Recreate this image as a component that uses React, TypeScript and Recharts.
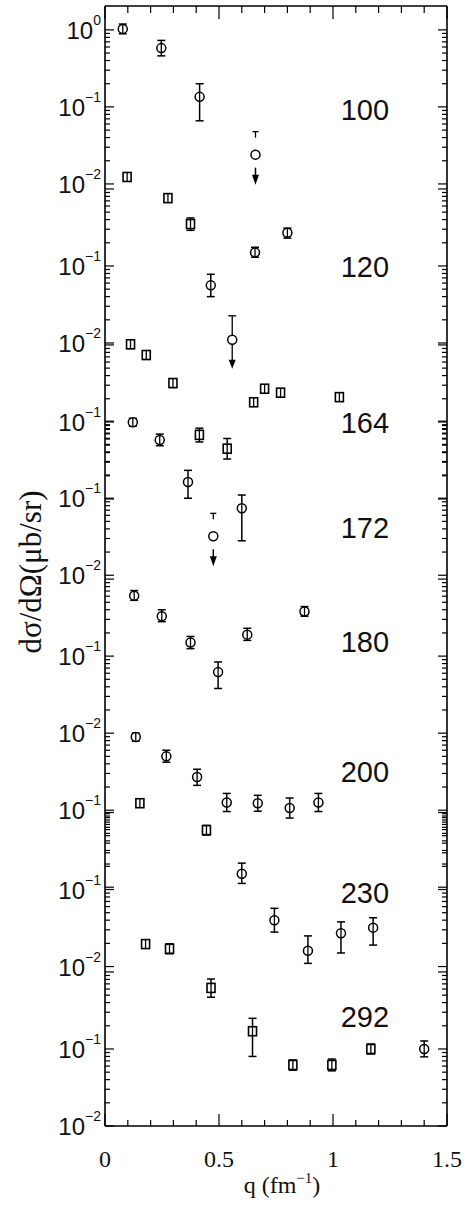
import React from 'react';
import { ScatterChart, Scatter, XAxis, YAxis, ErrorBar } from 'recharts';

type Pt = { q: number; v: number; lo?: number; hi?: number };

// ---------- data (q in fm^-1, dσ/dΩ in μb/sr) ----------
const ENERGIES = ['100', '120', '164', '172', '180', '200', '230', '292'];
// vertical shift of each energy panel, in decades
const PANEL_SHIFT = [0, -2.065, -4.09, -5.08, -7.13, -9.13, -10.16, -12.23];
// energy label anchor, in the panel's own units
const ENERGY_LABEL_V = [0.068, 0.072, 0.072, 0.03, 0.112, 0.23, 0.066, 0.19];
const ENERGY_LABEL_Q = 1.14;

const E100_CIRCLES: Pt[] = [
  { q: 0.078, v: 1.03, lo: 0.89, hi: 1.19 },
  { q: 0.247, v: 0.58, lo: 0.46, hi: 0.73 },
  { q: 0.415, v: 0.135, lo: 0.066, hi: 0.2 },
];
const E100_LIMITS: Pt[] = [{ q: 0.66, v: 0.024 }];

const E120_SQUARES: Pt[] = [
  { q: 0.097, v: 1.43, lo: 1.27, hi: 1.61 },
  { q: 0.276, v: 0.76, lo: 0.67, hi: 0.86 },
  { q: 0.375, v: 0.35, lo: 0.29, hi: 0.42 },
];
const E120_CIRCLES: Pt[] = [
  { q: 0.464, v: 0.056, lo: 0.04, hi: 0.078 },
  { q: 0.658, v: 0.15, lo: 0.13, hi: 0.175 },
  { q: 0.8, v: 0.27, lo: 0.23, hi: 0.31 },
];
const E120_LIMITS: Pt[] = [{ q: 0.558, v: 0.011, hi: 0.0225 }];

const E164_SQUARES: Pt[] = [
  { q: 0.112, v: 1.02, lo: 0.9, hi: 1.15 },
  { q: 0.181, v: 0.74, lo: 0.65, hi: 0.84 },
  { q: 0.298, v: 0.32, lo: 0.28, hi: 0.36 },
  { q: 0.414, v: 0.068, lo: 0.055, hi: 0.083 },
  { q: 0.536, v: 0.045, lo: 0.033, hi: 0.061 },
  { q: 0.652, v: 0.18, lo: 0.16, hi: 0.2 },
  { q: 0.7, v: 0.27, lo: 0.24, hi: 0.3 },
  { q: 0.77, v: 0.24, lo: 0.21, hi: 0.27 },
  { q: 1.028, v: 0.21, lo: 0.19, hi: 0.23 },
];

const E172_CIRCLES: Pt[] = [
  { q: 0.122, v: 0.97, lo: 0.86, hi: 1.09 },
  { q: 0.24, v: 0.57, lo: 0.48, hi: 0.68 },
  { q: 0.364, v: 0.162, lo: 0.1, hi: 0.23 },
  { q: 0.6, v: 0.074, lo: 0.028, hi: 0.11 },
];
const E172_LIMITS: Pt[] = [{ q: 0.475, v: 0.032 }];

const E180_CIRCLES: Pt[] = [
  { q: 0.128, v: 0.61, lo: 0.53, hi: 0.71 },
  { q: 0.249, v: 0.33, lo: 0.28, hi: 0.4 },
  { q: 0.375, v: 0.15, lo: 0.125, hi: 0.18 },
  { q: 0.496, v: 0.062, lo: 0.038, hi: 0.084 },
  { q: 0.624, v: 0.19, lo: 0.16, hi: 0.23 },
  { q: 0.875, v: 0.38, lo: 0.33, hi: 0.44 },
];

const E200_CIRCLES: Pt[] = [
  { q: 0.135, v: 0.89, lo: 0.79, hi: 1.0 },
  { q: 0.269, v: 0.5, lo: 0.42, hi: 0.6 },
  { q: 0.404, v: 0.27, lo: 0.21, hi: 0.34 },
  { q: 0.534, v: 0.126, lo: 0.096, hi: 0.165 },
  { q: 0.67, v: 0.123, lo: 0.097, hi: 0.156 },
  { q: 0.81, v: 0.107, lo: 0.079, hi: 0.144 },
  { q: 0.936, v: 0.126, lo: 0.096, hi: 0.165 },
];

const E230_SQUARES: Pt[] = [
  { q: 0.153, v: 1.32, lo: 1.17, hi: 1.49 },
  { q: 0.445, v: 0.59, lo: 0.51, hi: 0.68 },
];
const E230_CIRCLES: Pt[] = [
  { q: 0.6, v: 0.16, lo: 0.12, hi: 0.22 },
  { q: 0.743, v: 0.04, lo: 0.028, hi: 0.057 },
  { q: 0.89, v: 0.016, lo: 0.011, hi: 0.025 },
  { q: 1.035, v: 0.027, lo: 0.015, hi: 0.038 },
  { q: 1.176, v: 0.032, lo: 0.019, hi: 0.043 },
];

const E292_SQUARES: Pt[] = [
  { q: 0.178, v: 2.3, lo: 2.04, hi: 2.6 },
  { q: 0.283, v: 2.0, lo: 1.72, hi: 2.32 },
  { q: 0.465, v: 0.62, lo: 0.47, hi: 0.81 },
  { q: 0.647, v: 0.17, lo: 0.08, hi: 0.25 },
  { q: 0.824, v: 0.062, lo: 0.053, hi: 0.072 },
  { q: 0.995, v: 0.062, lo: 0.052, hi: 0.074 },
  { q: 1.166, v: 0.1, lo: 0.086, hi: 0.116 },
];
const E292_CIRCLES: Pt[] = [{ q: 1.4, v: 0.1, lo: 0.079, hi: 0.127 }];

// labelled decades on the left axis: [panel, exponent]
const Y_LABELLED: [number, number][] = [
  [0, 0], [0, -1], [0, -2], [1, -1], [1, -2], [2, -1], [3, -1], [3, -2],
  [4, -1], [4, -2], [5, -1], [6, -1], [6, -2], [7, -1], [7, -2],
];
const X_TICKS = [0, 0.1, 0.2, 0.3, 0.4, 0.5, 0.6, 0.7, 0.8, 0.9, 1.0, 1.1, 1.2, 1.3, 1.4, 1.5];
const X_TICK_LABELS: Record<string, string> = { '0.0': '0', '0.5': '0.5', '1.0': '1', '1.5': '1.5' };

// ---------- layout ----------
const W = 470;
const H = 1209;
const Y_TOP = 0.31;
const Y_BOTTOM = -14.23;
const INK = '#000';

const gv = (v: number, p: number) => Math.log10(v) + PANEL_SHIFT[p];

function rows(pts: Pt[], p: number) {
  return pts.map((d) => {
    const y = gv(d.v, p);
    const lo = d.lo != null ? y - gv(d.lo, p) : 0;
    const hi = d.hi != null ? gv(d.hi, p) - y : 0;
    return { q: d.q, g: y, err: [lo, hi] };
  });
}

// y ticks
const tickInfo = new Map<string, { major: boolean; label?: number }>();
const keyOf = (g: number) => g.toFixed(3);
PANEL_SHIFT.forEach((off) => {
  [0, -1, -2].forEach((e) => {
    const g = off + e;
    if (g <= Y_TOP && g >= Y_BOTTOM) tickInfo.set(keyOf(g), { major: true });
  });
  [0, -1].forEach((d) => {
    for (let k = 2; k <= 9; k++) {
      const g = off + d - 1 + Math.log10(k);
      if (!tickInfo.has(keyOf(g))) tickInfo.set(keyOf(g), { major: false });
    }
  });
});
Y_LABELLED.forEach(([p, e]) => {
  tickInfo.set(keyOf(PANEL_SHIFT[p] + e), { major: true, label: e });
});
const Y_TICKS = Array.from(tickInfo.keys()).map(Number).sort((a, b) => a - b);

const SANS = '"Liberation Sans", Arial, sans-serif';
const SERIF = '"Liberation Serif", "DejaVu Serif", serif';

const LeftTick = (props: any) => {
  const { x, y, payload } = props;
  const info = tickInfo.get(keyOf(payload.value)) || { major: false };
  const len = info.major ? 9 : 5;
  return (
    <g>
      <line x1={x} x2={x + len} y1={y} y2={y} stroke={INK} strokeWidth={1.2} />
      {info.label !== undefined && (
        <text x={x - 4} y={y + 9} textAnchor="end" fontFamily={SANS} fontSize={24} fill="#111">
          10
          <tspan fontSize={14} dy={-14}>{info.label === 0 ? '0' : '\u2212' + Math.abs(info.label)}</tspan>
        </text>
      )}
    </g>
  );
};

const RightTick = (props: any) => {
  const { x, y, payload } = props;
  const info = tickInfo.get(keyOf(payload.value)) || { major: false };
  const len = info.major ? 9 : 5;
  return <line x1={x} x2={x - len} y1={y} y2={y} stroke={INK} strokeWidth={1.2} />;
};

const isHalf = (v: number) => Math.abs(v * 2 - Math.round(v * 2)) < 1e-6;

const BottomTick = (props: any) => {
  const { x, y, payload } = props;
  const v = payload.value as number;
  const len = isHalf(v) ? 12 : 6;
  const label = X_TICK_LABELS[v.toFixed(1)];
  return (
    <g>
      <line x1={x} x2={x} y1={y} y2={y - len} stroke={INK} strokeWidth={1.2} />
      {label && (
        <text x={x} y={y + 41} textAnchor="middle" fontFamily={SERIF} fontSize={24} fill="#111">
          {label}
        </text>
      )}
    </g>
  );
};

const TopTick = (props: any) => {
  const { x, y, payload } = props;
  const len = isHalf(payload.value) ? 13 : 7;
  return <line x1={x} x2={x} y1={y} y2={y + len} stroke={INK} strokeWidth={1.2} />;
};

const CircleMark = (props: any) => {
  const { cx, cy } = props;
  if (cx == null || cy == null) return null;
  return (
    <g>
      <circle cx={cx} cy={cy} r={4.5} fill="#fff" stroke={INK} strokeWidth={1.5} />
      <line x1={cx} x2={cx} y1={cy - 4.5} y2={cy + 4.5} stroke={INK} strokeWidth={1.3} />
    </g>
  );
};

const SquareMark = (props: any) => {
  const { cx, cy } = props;
  if (cx == null || cy == null) return null;
  return (
    <g>
      <rect x={cx - 4} y={cy - 4.5} width={8} height={9} fill="#fff" stroke={INK} strokeWidth={1.6} />
      <line x1={cx} x2={cx} y1={cy - 4.5} y2={cy + 4.5} stroke={INK} strokeWidth={1.3} />
    </g>
  );
};

const LimitGapMark = (props: any) => {
  const { cx, cy } = props;
  if (cx == null || cy == null) return null;
  return (
    <g>
      <line x1={cx - 3} x2={cx + 3} y1={cy - 23} y2={cy - 23} stroke={INK} strokeWidth={1.3} />
      <line x1={cx} x2={cx} y1={cy - 23} y2={cy - 17} stroke={INK} strokeWidth={1.3} />
      <circle cx={cx} cy={cy} r={4.5} fill="#fff" stroke={INK} strokeWidth={1.5} />
      <line x1={cx} x2={cx} y1={cy + 13} y2={cy + 21} stroke={INK} strokeWidth={1.5} />
      <path d={`M${cx - 3.5},${cy + 20} L${cx + 3.5},${cy + 20} L${cx},${cy + 30} Z`} fill={INK} />
    </g>
  );
};

const LimitLineMark = (props: any) => {
  const { cx, cy } = props;
  if (cx == null || cy == null) return null;
  const upPx = 24;
  return (
    <g>
      <line x1={cx - 4} x2={cx + 4} y1={cy - upPx} y2={cy - upPx} stroke={INK} strokeWidth={1.3} />
      <line x1={cx} x2={cx} y1={cy - upPx} y2={cy + 21} stroke={INK} strokeWidth={1.3} />
      <circle cx={cx} cy={cy} r={4.5} fill="#fff" stroke={INK} strokeWidth={1.5} />
      <path d={`M${cx - 3.5},${cy + 20} L${cx + 3.5},${cy + 20} L${cx},${cy + 29} Z`} fill={INK} />
    </g>
  );
};

const EnergyLabel = (props: any) => {
  const { cx, cy, payload } = props;
  if (cx == null || cy == null) return null;
  const text = payload?.text ?? props.text;
  return (
    <text x={cx} y={cy} textAnchor="middle" fontFamily={SANS} fontSize={29} fill="#111">
      {text}
    </text>
  );
};

type SeriesDef = { name: string; data: any[]; shape: any; bars: boolean };

const SERIES: SeriesDef[] = [
  { name: '100 o', data: rows(E100_CIRCLES, 0), shape: CircleMark, bars: true },
  { name: '100 lim', data: rows(E100_LIMITS, 0), shape: LimitGapMark, bars: false },
  { name: '120 s', data: rows(E120_SQUARES, 1), shape: SquareMark, bars: true },
  { name: '120 o', data: rows(E120_CIRCLES, 1), shape: CircleMark, bars: true },
  { name: '120 lim', data: rows(E120_LIMITS, 1), shape: LimitLineMark, bars: false },
  { name: '164 s', data: rows(E164_SQUARES, 2), shape: SquareMark, bars: true },
  { name: '172 o', data: rows(E172_CIRCLES, 3), shape: CircleMark, bars: true },
  { name: '172 lim', data: rows(E172_LIMITS, 3), shape: LimitGapMark, bars: false },
  { name: '180 o', data: rows(E180_CIRCLES, 4), shape: CircleMark, bars: true },
  { name: '200 o', data: rows(E200_CIRCLES, 5), shape: CircleMark, bars: true },
  { name: '230 s', data: rows(E230_SQUARES, 6), shape: SquareMark, bars: true },
  { name: '230 o', data: rows(E230_CIRCLES, 6), shape: CircleMark, bars: true },
  { name: '292 s', data: rows(E292_SQUARES, 7), shape: SquareMark, bars: true },
  { name: '292 o', data: rows(E292_CIRCLES, 7), shape: CircleMark, bars: true },
];

const LABEL_ROWS = ENERGIES.map((t, i) => ({
  q: ENERGY_LABEL_Q,
  g: gv(ENERGY_LABEL_V[i], i),
  text: t,
}));

export default function App() {
  return (
    <div style={{ position: 'absolute', left: 0, top: 0, width: W, height: H, background: '#fff' }}>
      <ScatterChart width={W} height={H} margin={{ top: 5, right: 22, bottom: 0, left: 0 }}>
        <XAxis
          xAxisId={0}
          type="number"
          dataKey="q"
          domain={[0, 1.5]}
          ticks={X_TICKS}
          interval={0}
          allowDataOverflow
          height={83}
          tickSize={0}
          tickMargin={0}
          tickLine={false}
          tick={<BottomTick />}
          axisLine={{ stroke: INK, strokeWidth: 1.6 }}
        />
        <XAxis
          xAxisId="t"
          orientation="top"
          type="number"
          dataKey="q"
          domain={[0, 1.5]}
          ticks={X_TICKS}
          interval={0}
          allowDataOverflow
          height={1}
          tickSize={0}
          tickMargin={0}
          tickLine={false}
          tick={<TopTick />}
          axisLine={{ stroke: INK, strokeWidth: 1.6 }}
        />
        <YAxis
          yAxisId={0}
          type="number"
          dataKey="g"
          domain={[Y_BOTTOM, Y_TOP]}
          ticks={Y_TICKS}
          interval={0}
          allowDataOverflow
          width={105}
          tickSize={0}
          tickMargin={0}
          tickLine={false}
          tick={<LeftTick />}
          axisLine={{ stroke: INK, strokeWidth: 1.6 }}
        />
        <YAxis
          yAxisId="r"
          orientation="right"
          type="number"
          dataKey="g"
          domain={[Y_BOTTOM, Y_TOP]}
          ticks={Y_TICKS}
          interval={0}
          allowDataOverflow
          width={1}
          tickSize={0}
          tickMargin={0}
          tickLine={false}
          tick={<RightTick />}
          axisLine={{ stroke: INK, strokeWidth: 1.6 }}
        />
        {SERIES.map((s) => (
          <Scatter
            key={s.name}
            name={s.name}
            data={s.data}
            xAxisId={0}
            yAxisId={0}
            shape={s.shape}
            isAnimationActive={false}
          >
            {s.bars && (
              <ErrorBar dataKey="err" direction="y" width={4} stroke={INK} strokeWidth={1.5} />
            )}
          </Scatter>
        ))}
        <Scatter
          name="energies"
          data={LABEL_ROWS}
          xAxisId={0}
          yAxisId={0}
          shape={EnergyLabel}
          isAnimationActive={false}
        />
      </ScatterChart>
      <svg
        width={W}
        height={H}
        style={{ position: 'absolute', left: 0, top: 0, pointerEvents: 'none' }}
      >
        <text
          x={30}
          y={572}
          transform="rotate(-90 30 572)"
          textAnchor="middle"
          dominantBaseline="central"
          fontFamily={SERIF}
          fontSize={31}
          fill="#111"
        >
          dσ/dΩ(μb/sr)
        </text>
        <text x={282} y={1193} textAnchor="middle" fontFamily={SERIF} fontSize={24} fill="#111">
          q (fm
          <tspan fontSize={15} dy={-10}>{'\u2212'}1</tspan>
          <tspan dy={10}>)</tspan>
        </text>
      </svg>
    </div>
  );
}
